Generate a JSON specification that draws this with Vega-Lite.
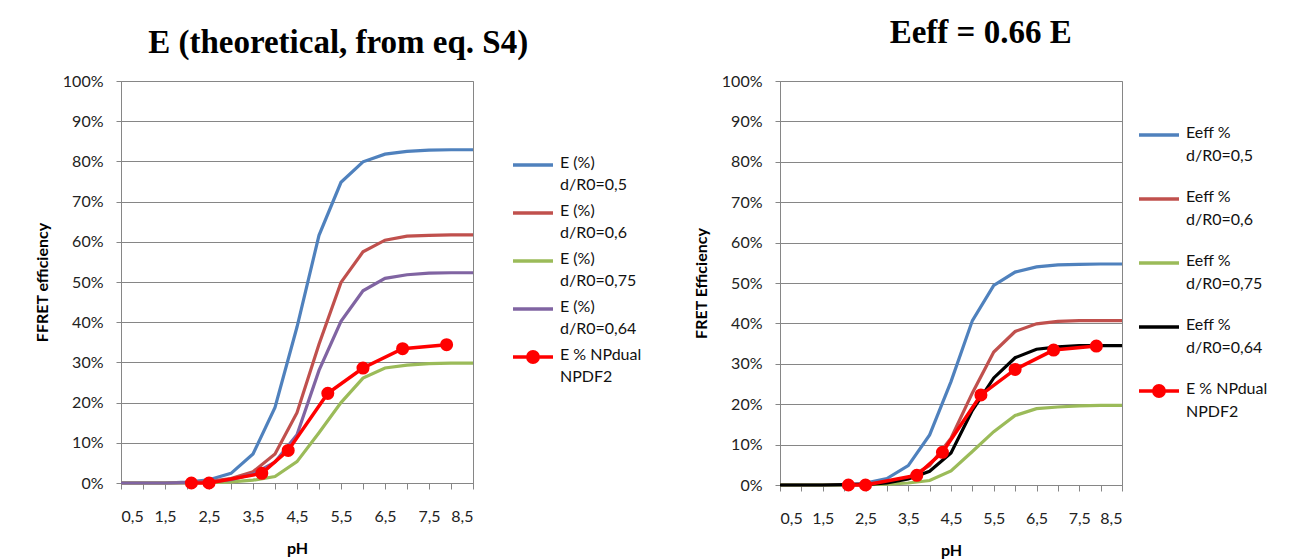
{
  "$schema": "https://vega.github.io/schema/vega-lite/v6.json",
  "background": "white",
  "padding": {"left": 33, "top": 16, "right": 0, "bottom": 0},
  "autosize": {"type": "pad"},
  "datasets": {
    "theory": [
      {"pH": 0.5, "s": "0,5", "E": 0}, {"pH": 1, "s": "0,5", "E": 0}, {"pH": 1.5, "s": "0,5", "E": 0}, {"pH": 2, "s": "0,5", "E": 0.002},
      {"pH": 2.5, "s": "0,5", "E": 0.008}, {"pH": 3, "s": "0,5", "E": 0.024}, {"pH": 3.5, "s": "0,5", "E": 0.072}, {"pH": 4, "s": "0,5", "E": 0.188},
      {"pH": 4.5, "s": "0,5", "E": 0.388}, {"pH": 5, "s": "0,5", "E": 0.616}, {"pH": 5.5, "s": "0,5", "E": 0.748}, {"pH": 6, "s": "0,5", "E": 0.799},
      {"pH": 6.5, "s": "0,5", "E": 0.818}, {"pH": 7, "s": "0,5", "E": 0.825}, {"pH": 7.5, "s": "0,5", "E": 0.828}, {"pH": 8, "s": "0,5", "E": 0.829},
      {"pH": 8.5, "s": "0,5", "E": 0.829},
      {"pH": 0.5, "s": "0,6", "E": 0}, {"pH": 1, "s": "0,6", "E": 0}, {"pH": 1.5, "s": "0,6", "E": 0}, {"pH": 2, "s": "0,6", "E": 0.001},
      {"pH": 2.5, "s": "0,6", "E": 0.004}, {"pH": 3, "s": "0,6", "E": 0.011}, {"pH": 3.5, "s": "0,6", "E": 0.028}, {"pH": 4, "s": "0,6", "E": 0.072},
      {"pH": 4.5, "s": "0,6", "E": 0.175}, {"pH": 5, "s": "0,6", "E": 0.345}, {"pH": 5.5, "s": "0,6", "E": 0.499}, {"pH": 6, "s": "0,6", "E": 0.575},
      {"pH": 6.5, "s": "0,6", "E": 0.604}, {"pH": 7, "s": "0,6", "E": 0.614}, {"pH": 7.5, "s": "0,6", "E": 0.616}, {"pH": 8, "s": "0,6", "E": 0.617},
      {"pH": 8.5, "s": "0,6", "E": 0.617},
      {"pH": 0.5, "s": "0,75", "E": 0}, {"pH": 1, "s": "0,75", "E": 0}, {"pH": 1.5, "s": "0,75", "E": 0}, {"pH": 2, "s": "0,75", "E": 0},
      {"pH": 2.5, "s": "0,75", "E": 0.001}, {"pH": 3, "s": "0,75", "E": 0.003}, {"pH": 3.5, "s": "0,75", "E": 0.007}, {"pH": 4, "s": "0,75", "E": 0.016},
      {"pH": 4.5, "s": "0,75", "E": 0.053}, {"pH": 5, "s": "0,75", "E": 0.125}, {"pH": 5.5, "s": "0,75", "E": 0.2}, {"pH": 6, "s": "0,75", "E": 0.261},
      {"pH": 6.5, "s": "0,75", "E": 0.286}, {"pH": 7, "s": "0,75", "E": 0.293}, {"pH": 7.5, "s": "0,75", "E": 0.297}, {"pH": 8, "s": "0,75", "E": 0.298},
      {"pH": 8.5, "s": "0,75", "E": 0.298},
      {"pH": 0.5, "s": "0,64", "E": 0}, {"pH": 1, "s": "0,64", "E": 0}, {"pH": 1.5, "s": "0,64", "E": 0}, {"pH": 2, "s": "0,64", "E": 0.001},
      {"pH": 2.5, "s": "0,64", "E": 0.002}, {"pH": 3, "s": "0,64", "E": 0.008}, {"pH": 3.5, "s": "0,64", "E": 0.022}, {"pH": 4, "s": "0,64", "E": 0.052},
      {"pH": 4.5, "s": "0,64", "E": 0.12}, {"pH": 5, "s": "0,64", "E": 0.28}, {"pH": 5.5, "s": "0,64", "E": 0.402}, {"pH": 6, "s": "0,64", "E": 0.478},
      {"pH": 6.5, "s": "0,64", "E": 0.509}, {"pH": 7, "s": "0,64", "E": 0.518}, {"pH": 7.5, "s": "0,64", "E": 0.522}, {"pH": 8, "s": "0,64", "E": 0.523},
      {"pH": 8.5, "s": "0,64", "E": 0.523}
    ],
    "effective": [
      {"pH": 0.5, "s": "0,5", "E": 0}, {"pH": 1, "s": "0,5", "E": 0}, {"pH": 1.5, "s": "0,5", "E": 0}, {"pH": 2, "s": "0,5", "E": 0.001},
      {"pH": 2.5, "s": "0,5", "E": 0.005}, {"pH": 3, "s": "0,5", "E": 0.016}, {"pH": 3.5, "s": "0,5", "E": 0.048}, {"pH": 4, "s": "0,5", "E": 0.124},
      {"pH": 4.5, "s": "0,5", "E": 0.256}, {"pH": 5, "s": "0,5", "E": 0.407}, {"pH": 5.5, "s": "0,5", "E": 0.494}, {"pH": 6, "s": "0,5", "E": 0.527},
      {"pH": 6.5, "s": "0,5", "E": 0.54}, {"pH": 7, "s": "0,5", "E": 0.545}, {"pH": 7.5, "s": "0,5", "E": 0.546}, {"pH": 8, "s": "0,5", "E": 0.547},
      {"pH": 8.5, "s": "0,5", "E": 0.547},
      {"pH": 0.5, "s": "0,6", "E": 0}, {"pH": 1, "s": "0,6", "E": 0}, {"pH": 1.5, "s": "0,6", "E": 0}, {"pH": 2, "s": "0,6", "E": 0.001},
      {"pH": 2.5, "s": "0,6", "E": 0.003}, {"pH": 3, "s": "0,6", "E": 0.007}, {"pH": 3.5, "s": "0,6", "E": 0.018}, {"pH": 4, "s": "0,6", "E": 0.048},
      {"pH": 4.5, "s": "0,6", "E": 0.116}, {"pH": 5, "s": "0,6", "E": 0.228}, {"pH": 5.5, "s": "0,6", "E": 0.329}, {"pH": 6, "s": "0,6", "E": 0.38},
      {"pH": 6.5, "s": "0,6", "E": 0.399}, {"pH": 7, "s": "0,6", "E": 0.405}, {"pH": 7.5, "s": "0,6", "E": 0.407}, {"pH": 8, "s": "0,6", "E": 0.407},
      {"pH": 8.5, "s": "0,6", "E": 0.407},
      {"pH": 0.5, "s": "0,75", "E": 0}, {"pH": 1, "s": "0,75", "E": 0}, {"pH": 1.5, "s": "0,75", "E": 0}, {"pH": 2, "s": "0,75", "E": 0},
      {"pH": 2.5, "s": "0,75", "E": 0.001}, {"pH": 3, "s": "0,75", "E": 0.002}, {"pH": 3.5, "s": "0,75", "E": 0.005}, {"pH": 4, "s": "0,75", "E": 0.011},
      {"pH": 4.5, "s": "0,75", "E": 0.035}, {"pH": 5, "s": "0,75", "E": 0.083}, {"pH": 5.5, "s": "0,75", "E": 0.132}, {"pH": 6, "s": "0,75", "E": 0.172},
      {"pH": 6.5, "s": "0,75", "E": 0.189}, {"pH": 7, "s": "0,75", "E": 0.193}, {"pH": 7.5, "s": "0,75", "E": 0.196}, {"pH": 8, "s": "0,75", "E": 0.197},
      {"pH": 8.5, "s": "0,75", "E": 0.197},
      {"pH": 0.5, "s": "0,64", "E": 0}, {"pH": 1, "s": "0,64", "E": 0}, {"pH": 1.5, "s": "0,64", "E": 0}, {"pH": 2, "s": "0,64", "E": 0.001},
      {"pH": 2.5, "s": "0,64", "E": 0.001}, {"pH": 3, "s": "0,64", "E": 0.005}, {"pH": 3.5, "s": "0,64", "E": 0.015}, {"pH": 4, "s": "0,64", "E": 0.034},
      {"pH": 4.5, "s": "0,64", "E": 0.079}, {"pH": 5, "s": "0,64", "E": 0.185}, {"pH": 5.5, "s": "0,64", "E": 0.265}, {"pH": 6, "s": "0,64", "E": 0.315},
      {"pH": 6.5, "s": "0,64", "E": 0.336}, {"pH": 7, "s": "0,64", "E": 0.342}, {"pH": 7.5, "s": "0,64", "E": 0.345}, {"pH": 8, "s": "0,64", "E": 0.345},
      {"pH": 8.5, "s": "0,64", "E": 0.345}
    ],
    "npdual": [
      {"pH": 2.1, "s": "NPdual", "E": 0},
      {"pH": 2.5, "s": "NPdual", "E": 0},
      {"pH": 3.7, "s": "NPdual", "E": 0.024},
      {"pH": 4.3, "s": "NPdual", "E": 0.081},
      {"pH": 5.2, "s": "NPdual", "E": 0.223},
      {"pH": 6.0, "s": "NPdual", "E": 0.286},
      {"pH": 6.9, "s": "NPdual", "E": 0.334},
      {"pH": 7.9, "s": "NPdual", "E": 0.344}
    ]
  },
  "config": {
    "font": "Lato",
    "view": {"stroke": "#868686", "strokeWidth": 1},
    "axis": {
      "labelFont": "Lato", "labelFontSize": 16, "labelColor": "#222222",
      "titleFont": "Lato", "titleFontSize": 16, "titleFontWeight": "bold", "titleColor": "#000000",
      "domainColor": "#868686", "tickColor": "#868686", "gridColor": "#868686", "gridOpacity": 1
    },
    "legend": {
      "labelFont": "Lato", "labelFontSize": 16, "labelColor": "#111111",
      "symbolType": "stroke", "symbolSize": 1600, "symbolStrokeWidth": 3.5,
      "labelBaseline": "top", "labelOffset": 5, "labelLimit": 200
    },
    "title": {"font": "Liberation Serif", "fontSize": 33, "fontWeight": "bold", "color": "#000000", "anchor": "middle", "frame": "bounds"}
  },
  "hconcat": [
    {
      "title": {"text": "E (theoretical, from eq. S4)", "offset": 13},
      "width": 352,
      "height": 402,
      "layer": [
        {
          "data": {"name": "theory"},
          "mark": {"type": "line", "strokeWidth": 3.2},
          "encoding": {
            "x": {"field": "pH", "type": "quantitative"},
            "y": {"field": "E", "type": "quantitative"},
            "color": {"field": "s", "type": "nominal"}
          }
        },
        {
          "data": {"name": "npdual"},
          "mark": {"type": "line", "strokeWidth": 3.5, "point": {"filled": true, "size": 170, "opacity": 1}},
          "encoding": {
            "x": {"field": "pH", "type": "quantitative"},
            "y": {"field": "E", "type": "quantitative"},
            "color": {"field": "s", "type": "nominal"}
          }
        }
      ],
      "encoding": {
        "x": {
          "field": "pH", "type": "quantitative", "title": "pH",
          "scale": {"domain": [0.5, 8.5], "nice": false, "zero": false},
          "axis": {
            "values": [0.5, 1, 1.5, 2, 2.5, 3, 3.5, 4, 4.5, 5, 5.5, 6, 6.5, 7, 7.5, 8, 8.5],
            "labelExpr": "datum.value % 1 == 0 ? '' : replace(format(datum.value, '.1f'), '.', ',')",
            "grid": false, "tickSize": 6, "labelPadding": 19, "titlePadding": 16
          }
        },
        "y": {
          "field": "E", "type": "quantitative", "title": "FFRET efficiency",
          "scale": {"domain": [0, 1], "nice": false},
          "axis": {
            "values": [0, 0.1, 0.2, 0.3, 0.4, 0.5, 0.6, 0.7, 0.8, 0.9, 1],
            "format": ".0%", "grid": true, "tickSize": 5, "labelPadding": 13, "titlePadding": 12
          }
        },
        "color": {
          "field": "s", "type": "nominal",
          "scale": {"domain": ["0,5", "0,6", "0,75", "0,64", "NPdual"], "range": ["#4F81BD", "#C0504D", "#9BBB59", "#8064A2", "#FF0000"]},
          "legend": {
            "title": null, "orient": "none", "legendX": 390, "legendY": 64, "rowPadding": 0, "clipHeight": 40,
            "labelExpr": "datum.value == 'NPdual' ? ['E % NPdual', 'NPDF2'] : ['E (%)', 'd/R0=' + datum.value]",
            "encode": {
              "labels": {"update": {"dy": {"value": -10}, "lineHeight": {"value": 22}}},
              "symbols": {"update": {
                "shape": {"signal": "datum.value == 'NPdual' ? 'M-1,0H1M0.26,0A0.26,0.26,0,1,1,-0.26,0A0.26,0.26,0,1,1,0.26,0Z' : 'stroke'"},
                "fill": {"signal": "datum.value == 'NPdual' ? '#FF0000' : 'transparent'"},
                "fillOpacity": {"value": 1}
              }}
            }
          }
        }
      }
    },
    {
      "title": {"text": "Eeff  = 0.66 E", "offset": 23},
      "width": 342,
      "height": 404,
      "layer": [
        {
          "data": {"name": "effective"},
          "mark": {"type": "line", "strokeWidth": 3.2},
          "encoding": {
            "x": {"field": "pH", "type": "quantitative"},
            "y": {"field": "E", "type": "quantitative"},
            "color": {"field": "s", "type": "nominal"}
          }
        },
        {
          "data": {"name": "npdual"},
          "mark": {"type": "line", "strokeWidth": 3.5, "point": {"filled": true, "size": 170, "opacity": 1}},
          "encoding": {
            "x": {"field": "pH", "type": "quantitative"},
            "y": {"field": "E", "type": "quantitative"},
            "color": {"field": "s", "type": "nominal"}
          }
        }
      ],
      "encoding": {
        "x": {
          "field": "pH", "type": "quantitative", "title": "pH",
          "scale": {"domain": [0.5, 8.5], "nice": false, "zero": false},
          "axis": {
            "values": [0.5, 1, 1.5, 2, 2.5, 3, 3.5, 4, 4.5, 5, 5.5, 6, 6.5, 7, 7.5, 8, 8.5],
            "labelExpr": "datum.value % 1 == 0 ? '' : replace(format(datum.value, '.1f'), '.', ',')",
            "grid": false, "tickSize": 6, "labelPadding": 19, "titlePadding": 16
          }
        },
        "y": {
          "field": "E", "type": "quantitative", "title": "FRET Efficiency",
          "scale": {"domain": [0, 1], "nice": false},
          "axis": {
            "values": [0, 0.1, 0.2, 0.3, 0.4, 0.5, 0.6, 0.7, 0.8, 0.9, 1],
            "format": ".0%", "grid": true, "tickSize": 5, "labelPadding": 13, "titlePadding": 12
          }
        },
        "color": {
          "field": "s", "type": "nominal",
          "scale": {"domain": ["0,5", "0,6", "0,75", "0,64", "NPdual"], "range": ["#4F81BD", "#C0504D", "#9BBB59", "#000000", "#FF0000"]},
          "legend": {
            "title": null, "orient": "none", "legendX": 357, "legendY": 22, "rowPadding": 0, "clipHeight": 64,
            "labelExpr": "datum.value == 'NPdual' ? ['E % NPdual', 'NPDF2'] : ['Eeff %', 'd/R0=' + datum.value]",
            "encode": {
              "labels": {"update": {"dy": {"value": -10}, "lineHeight": {"value": 23}}},
              "symbols": {"update": {
                "shape": {"signal": "datum.value == 'NPdual' ? 'M-1,0H1M0.26,0A0.26,0.26,0,1,1,-0.26,0A0.26,0.26,0,1,1,0.26,0Z' : 'stroke'"},
                "fill": {"signal": "datum.value == 'NPdual' ? '#FF0000' : 'transparent'"},
                "fillOpacity": {"value": 1}
              }}
            }
          }
        }
      }
    }
  ],
  "resolve": {"scale": {"color": "independent"}},
  "spacing": 49
}
